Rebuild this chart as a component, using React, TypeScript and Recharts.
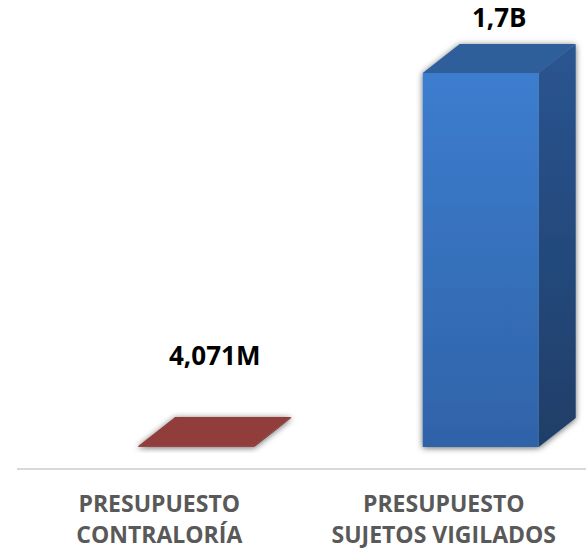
import React from "react";
import { BarChart, Bar, XAxis, YAxis, LabelList } from "recharts";

const categories = ["PRESUPUESTO\nCONTRALORÍA", "PRESUPUESTO\nSUJETOS VIGILADOS"];
const values = [4.071, 1700]; // millones
const valueLabels = ["4,071M", "1,7B"];

const data = categories.map((name, i) => ({
  name,
  value: values[i],
  label: valueLabels[i],
}));

// 3D look: depth of the box and how far the box sits behind the floor edge
const DEPTH_X = 37;
const DEPTH_Y = 29;
const BACK_X = 37;
const BACK_Y = 22;

const FONT = "'Open Sans', 'DejaVu Sans', sans-serif";

type Palette = { front: [string, string]; top: string; side: [string, string] };
const palettes: Palette[] = [
  { front: ["#9a413f", "#8a3735"], top: "#913c3a", side: ["#7a302e", "#6a2826"] },
  { front: ["#3d7dcf", "#2f63a8"], top: "#2d5e9b", side: ["#2a5591", "#1f3e68"] },
];

const Box3D = (props: any) => {
  const { x, y, width, height, index } = props;
  const p = palettes[index % palettes.length];
  const l = x + BACK_X;
  const r = l + width;
  const top = y - BACK_Y;
  const bottom = y + height - BACK_Y;
  const dx = DEPTH_X;
  const dy = DEPTH_Y;
  return (
    <g filter="url(#boxShadow)">
      <polygon
        points={`${r},${top} ${r + dx},${top - dy} ${r + dx},${bottom - dy} ${r},${bottom}`}
        fill={`url(#side${index})`}
      />
      <polygon
        points={`${l},${top} ${l + dx},${top - dy} ${r + dx},${top - dy} ${r},${top}`}
        fill={p.top}
      />
      <rect x={l} y={top} width={width} height={Math.max(bottom - top, 0)} fill={`url(#front${index})`} />
    </g>
  );
};

const ValueLabel = (props: any) => {
  const { x, y, width, height, value } = props;
  const cx = x + BACK_X + width / 2 + DEPTH_X / 2;
  const top = y - BACK_Y;
  const bottom = y + height - BACK_Y;
  const ly = Math.min(top - DEPTH_Y - 17, bottom - 82);
  return (
    <text
      x={cx}
      y={ly}
      textAnchor="middle"
      fontFamily={FONT}
      fontWeight={700}
      fontSize={26}
      fill="#000"
    >
      {value}
    </text>
  );
};

const CategoryTick = (props: any) => {
  const { x, y, payload } = props;
  const lines = String(payload.value).split("\n");
  return (
    <text
      x={x}
      y={y}
      textAnchor="middle"
      fontFamily={FONT}
      fontWeight={700}
      fontSize={23}
      fill="#595959"
    >
      {lines.map((ln, i) => (
        <tspan key={i} x={x} dy={i === 0 ? 35 : 31}>
          {ln}
        </tspan>
      ))}
    </text>
  );
};

export default function App() {
  return (
    <div style={{ position: "absolute", left: 0, top: 0, width: 586, height: 550, background: "#fff" }}>
      <BarChart
        width={586}
        height={550}
        data={data}
        margin={{ top: 95, right: 0, left: 17, bottom: 51 }}
        barCategoryGap="29.6%"
      >
        <defs>
          {palettes.map((p, i) => (
            <React.Fragment key={i}>
              <linearGradient id={`front${i}`} x1="0" y1="0" x2="0" y2="1">
                <stop offset="0%" stopColor={p.front[0]} />
                <stop offset="100%" stopColor={p.front[1]} />
              </linearGradient>
              <linearGradient id={`side${i}`} x1="0" y1="0" x2="0" y2="1">
                <stop offset="0%" stopColor={p.side[0]} />
                <stop offset="100%" stopColor={p.side[1]} />
              </linearGradient>
            </React.Fragment>
          ))}
          <filter id="boxShadow" x="-20%" y="-20%" width="140%" height="140%">
            <feDropShadow dx="0" dy="1" stdDeviation="3" floodColor="#000" floodOpacity="0.6" />
          </filter>
        </defs>
        <XAxis
          dataKey="name"
          tickLine={false}
          axisLine={{ stroke: "#d9d9d9", strokeWidth: 2 }}
          tick={<CategoryTick />}
          interval={0}
          height={30}
        />
        <YAxis hide domain={[0, 1700]} />
        <Bar dataKey="value" shape={<Box3D />} isAnimationActive={false}>
          <LabelList dataKey="label" content={<ValueLabel />} />
        </Bar>
      </BarChart>
    </div>
  );
}
